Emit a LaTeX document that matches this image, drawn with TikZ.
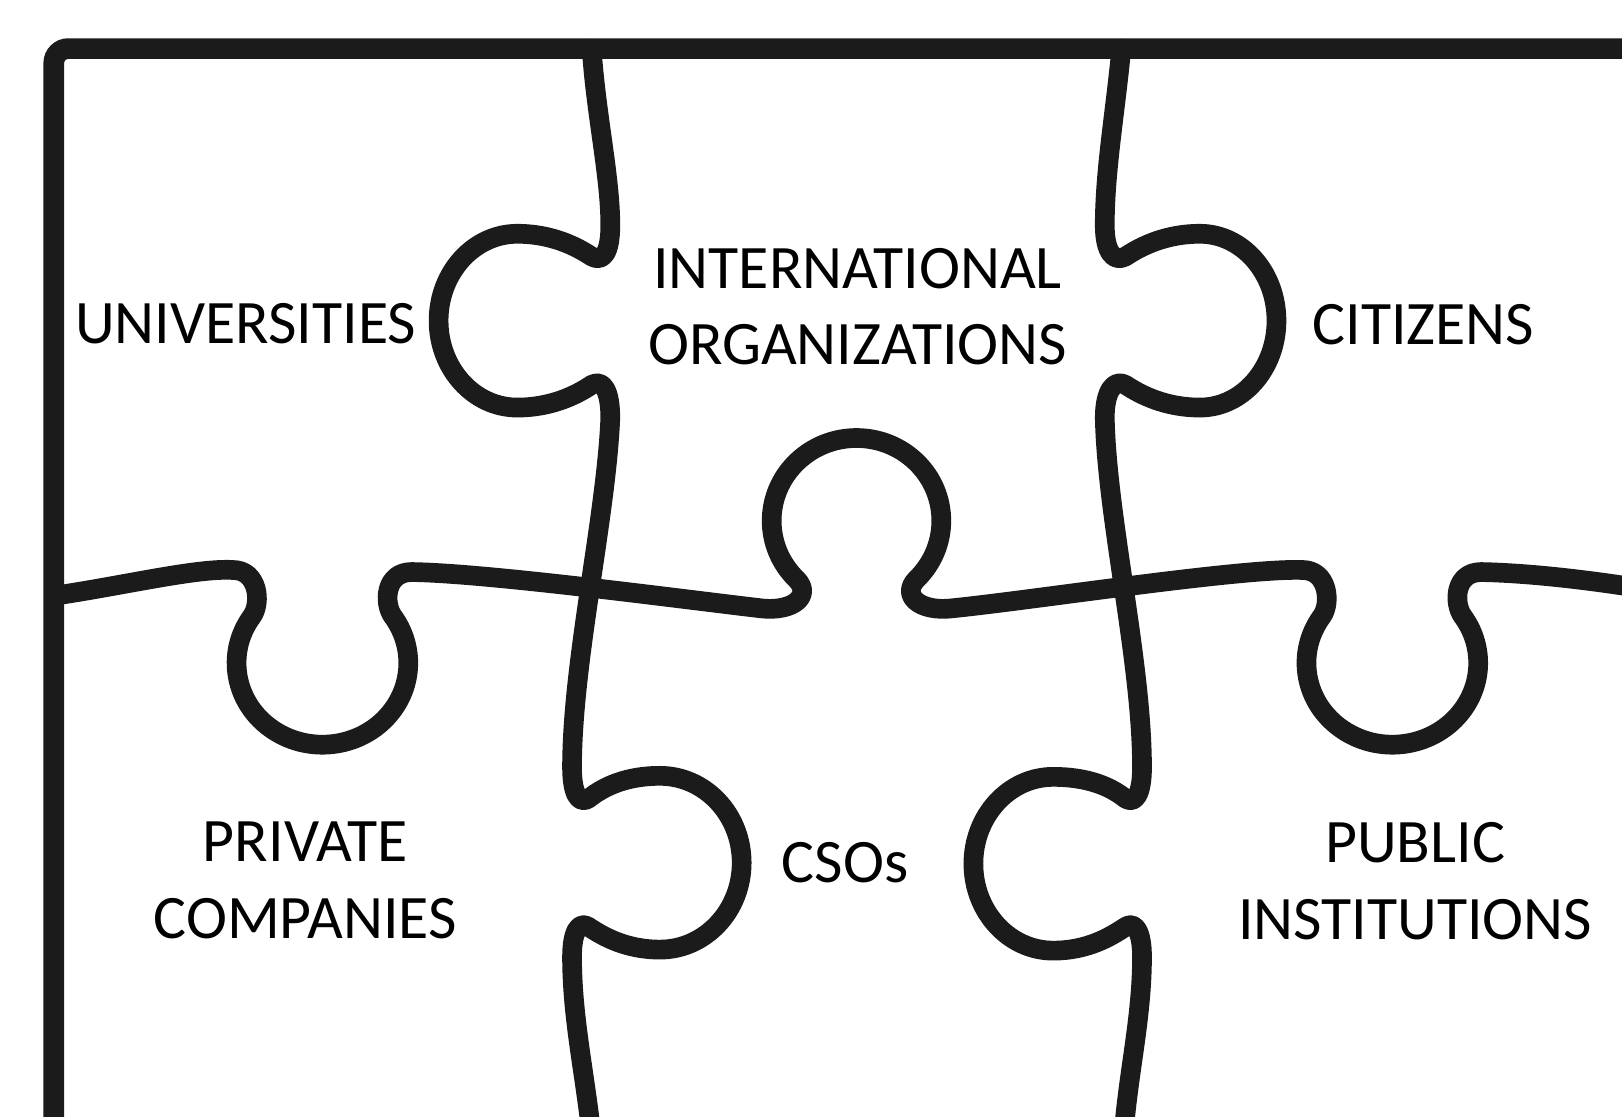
\documentclass[tikz,border=0pt]{standalone}
\usepackage{fontspec}
\setmainfont{Carlito}
\definecolor{ink}{RGB}{27,27,27}
\tikzset{
  piece/.style={draw=ink, line width=0.19cm, line join=round, line cap=round},
  framestyle/.style={draw=ink, line width=0.2cm, rounded corners=0.14cm},
  lbl/.style={font=\fontsize{17pt}{21pt}\selectfont, text=black, inner sep=0pt, align=center}
}
\begin{document}
\begin{tikzpicture}[x=0.01cm, y=-0.01cm]
\useasboundingbox (0,0) rectangle (1568,1079);
\clip (0,0) rectangle (1568,1079);
\fill[white] (0,0) rectangle (1568,1079);

% outer frame
\draw[framestyle] (52,1120) -- (52,47) -- (1620,47);

% left vertical seam
\draw[piece] (572,47) .. controls (576,110) and (590,170) .. (590,218)
  .. controls (590,244) and (583,254) .. (572,248)
  .. controls (557,238) and (533,226) .. (500,226)
  arc[start angle=270, end angle=90, x radius=76, y radius=84]
  .. controls (533,394) and (557,382) .. (572,372)
  .. controls (583,366) and (590,378) .. (590,404)
  .. controls (586,500) and (553,640) .. (553,742)
  .. controls (553,768) and (560,778) .. (569,772)
  .. controls (584,760) and (606,750) .. (638,750)
  arc[start angle=270, end angle=450, x radius=79, y radius=84]
  .. controls (606,918) and (584,906) .. (569,896)
  .. controls (560,890) and (553,900) .. (553,925)
  .. controls (553,985) and (566,1040) .. (572,1100);

% right vertical seam
\draw[piece] (1084,47) .. controls (1078,110) and (1068,165) .. (1068,218)
  .. controls (1068,244) and (1077,254) .. (1088,248)
  .. controls (1103,238) and (1127,226) .. (1160,226)
  arc[start angle=270, end angle=450, x radius=74, y radius=84]
  .. controls (1127,394) and (1103,382) .. (1088,372)
  .. controls (1077,366) and (1068,378) .. (1068,404)
  .. controls (1070,500) and (1104,640) .. (1104,742)
  .. controls (1104,768) and (1097,778) .. (1088,772)
  .. controls (1073,760) and (1051,751) .. (1018,751)
  arc[start angle=270, end angle=90, x radius=77, y radius=84]
  .. controls (1051,919) and (1073,906) .. (1088,896)
  .. controls (1097,890) and (1104,900) .. (1104,925)
  .. controls (1104,985) and (1090,1040) .. (1086,1100);

% horizontal seam
\draw[piece] (52,576) .. controls (120,566) and (190,549) .. (225,551)
  .. controls (250,551) and (252.7,583) .. (243.7,595.6)
  arc[start angle=215, end angle=-35, x radius=83, y radius=79]
  .. controls (370.7,583) and (372,553) .. (398,553)
  .. controls (470,554) and (650,578) .. (735,588)
  .. controls (768,592) and (785,575) .. (770,560)
  arc[start angle=135, end angle=405, x radius=82, y radius=80]
  .. controls (871,575) and (888,592) .. (921,588)
  .. controls (1000,580) and (1200,549) .. (1259,551)
  .. controls (1284,551) and (1287,583) .. (1278,595.6)
  arc[start angle=215, end angle=-35, x radius=83, y radius=79]
  .. controls (1405,583) and (1406,553) .. (1432,553)
  .. controls (1480,554) and (1540,561) .. (1600,571);

% labels
\node[lbl] (univ) at (237.5,313) {UNIVERSITIES};
\node[lbl] (intl) at (829,296.5) {INTERNATIONAL\\ORGANIZATIONS};
\node[lbl] (citz) at (1376,314) {CITIZENS};
\node[lbl] (priv) at (295,851) {PRIVATE\\COMPANIES};
\node[lbl] (csos) at (817,833.5) {CSOs};
\node[lbl] (publ) at (1368,852) {PUBLIC\\INSTITUTIONS};
\end{tikzpicture}
\end{document}
